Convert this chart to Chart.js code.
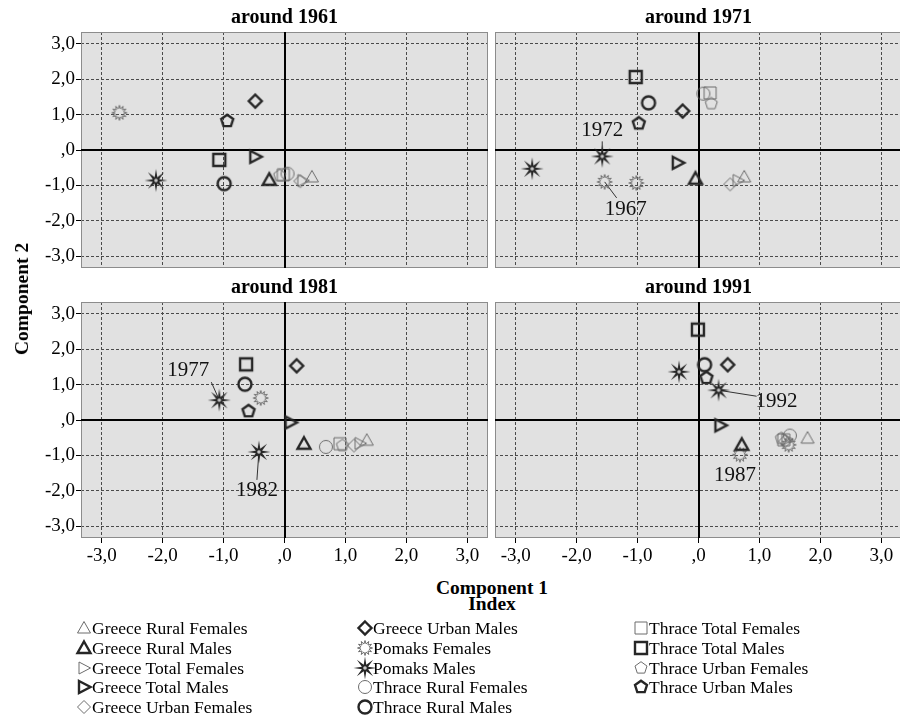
<!DOCTYPE html>
<html>
<head>
<meta charset="utf-8">
<script src="https://cdn.jsdelivr.net/npm/chart.js@4"></script>
<style>
body { margin:0; width:900px; height:715px; overflow:hidden; position:relative; background:#fff;
       font-family:'Liberation Serif','Times New Roman',serif; color:#000; }
canvas { position:absolute; }
.axt { position:absolute; font-weight:bold; font-size:19.5px; white-space:nowrap; line-height:22px; }
.leg { position:absolute; font-size:17.5px; white-space:nowrap; line-height:20px; }
</style>
</head>
<body>
<canvas id="p0" width="490" height="270" style="left:0;top:0"></canvas>
<canvas id="p1" width="412" height="270" style="left:490px;top:0"></canvas>
<canvas id="p2" width="490" height="298" style="left:0;top:270px"></canvas>
<canvas id="p3" width="412" height="298" style="left:490px;top:270px"></canvas>
<div class="axt" style="left:392px;width:200px;text-align:center;top:577px">Component 1</div>
<div class="axt" style="left:392px;width:200px;text-align:center;top:593px">Index</div>
<div class="axt" style="left:22px;top:299px;transform:translate(-50%,-50%) rotate(-90deg)">Component 2</div>
<div id="legend"></div>
<script>
var seriesNames = ['Greece Rural Females', 'Greece Rural Males', 'Greece Total Females', 'Greece Total Males',
    'Greece Urban Females', 'Greece Urban Males', 'Pomaks Females', 'Pomaks Males',
    'Thrace Rural Females', 'Thrace Rural Males', 'Thrace Total Females', 'Thrace Total Males',
    'Thrace Urban Females', 'Thrace Urban Males'];
var seriesShapes = ['triangle', 'triangle', 'right', 'right', 'diamond', 'diamond', 'star', 'star',
    'circle', 'circle', 'square', 'square', 'pentagon', 'pentagon'];
var panelTitles = ['around 1961', 'around 1971', 'around 1981', 'around 1991'];
var tickValues = [-3, -2, -1, 0, 1, 2, 3];
var tickLabels = ['-3,0', '-2,0', '-1,0', ',0', '1,0', '2,0', '3,0'];

// component scores at the census, same order as seriesNames (null = no census point)
var comp1_1961 = [0.45, -0.25, 0.30, -0.48, 0.26, -0.48, -2.71, -2.11, 0.05, -0.99, -0.02, -1.07, -0.08, -0.94];
var comp2_1961 = [-0.76, -0.84, -0.86, -0.19, -0.88, 1.38, 1.05, -0.86, -0.67, -0.95, -0.70, -0.28, -0.72, 0.82];
var comp1_1971 = [0.75, -0.05, 0.65, -0.34, 0.52, -0.26, -1.02, -2.73, 0.08, -0.82, 0.19, -1.03, 0.21, -0.98];
var comp2_1971 = [-0.76, -0.81, -0.86, -0.36, -0.97, 1.10, -0.93, -0.53, 1.59, 1.33, 1.61, 2.06, 1.31, 0.75];
var comp1_1981 = [1.35, 0.32, 1.24, 0.10, 1.14, 0.20, -0.39, null, 0.68, -0.65, 0.91, -0.63, 0.95, -0.59];
var comp2_1981 = [-0.57, -0.67, -0.66, -0.07, -0.72, 1.53, 0.62, null, -0.76, 1.01, -0.67, 1.57, -0.72, 0.25];
var comp1_1991 = [1.79, 0.71, 1.45, 0.36, 1.42, 0.48, 1.48, -0.32, 1.50, 0.10, 1.40, -0.01, 1.36, 0.13];
var comp2_1991 = [-0.51, -0.70, -0.55, -0.15, -0.60, 1.56, -0.70, 1.36, -0.44, 1.56, -0.56, 2.55, -0.52, 1.19];

// Pomaks surveys taken between censuses
var extraPanel = [1, 1, 2, 2, 3, 3];
var extraSeries = [6, 7, 7, 7, 6, 7];
var extraX = [-1.54, -1.58, -1.07, -0.42, 0.68, 0.33];
var extraY = [-0.90, -0.18, 0.56, -0.90, -0.98, 0.84];
var extraYear = ['1967', '1972', '1977', '1982', '1987', '1992'];

var panelX = [comp1_1961, comp1_1971, comp1_1981, comp1_1991];
var panelY = [comp2_1961, comp2_1971, comp2_1981, comp2_1991];

// label text offset (dx, dy) and leader end (lx, ly) in px from the point
var labelPos = [[21, 28, 12, 16], [0, -26, 0, -15], [-31, -30, -8, -18], [-2, 39, -2, 28], [-5, 21, 0, 0], [58, 11, 38, 6]];

var serif = "'Liberation Serif', 'Times New Roman', serif";

function makeMarker(shape, male) {
    var size = 26;
    var c = document.createElement('canvas');
    c.width = size;
    c.height = size;
    var g = c.getContext('2d');
    g.translate(size / 2, size / 2);
    g.lineWidth = male ? 2.4 : 1;
    g.strokeStyle = male ? '#262626' : '#6c6c6c';
    g.lineJoin = 'miter';
    g.beginPath();
    var i, a, r;
    if (shape === 'triangle') {
        g.moveTo(0, -6.5); g.lineTo(6.5, 5); g.lineTo(-6.5, 5); g.closePath();
    } else if (shape === 'right') {
        g.moveTo(-5, -6); g.lineTo(6.5, 0); g.lineTo(-5, 6); g.closePath();
    } else if (shape === 'diamond') {
        g.moveTo(0, -6.5); g.lineTo(6.5, 0); g.lineTo(0, 6.5); g.lineTo(-6.5, 0); g.closePath();
    } else if (shape === 'circle') {
        g.arc(0, 0, 6.5, 0, Math.PI * 2);
    } else if (shape === 'square') {
        g.rect(-6, -6, 12, 12);
    } else if (shape === 'pentagon') {
        for (i = 0; i < 5; i++) {
            a = -Math.PI / 2 + i * 2 * Math.PI / 5;
            g.lineTo(6.3 * Math.cos(a), 6.3 * Math.sin(a));
        }
        g.closePath();
    } else if (shape === 'star') {
        var n = male ? 8 : 12;
        for (i = 0; i < n * 2; i++) {
            a = -Math.PI / 2 + i * Math.PI / n;
            r = (i % 2 === 0) ? (male ? 11.5 : 7.5) : (male ? 3.4 : 4.2);
            g.lineTo(r * Math.cos(a), r * Math.sin(a));
        }
        g.closePath();
        if (male) {
            g.fillStyle = '#262626';
            g.fill();
            g.beginPath();
            g.arc(0, 0, 1.8, 0, Math.PI * 2);
            g.fillStyle = '#c8c8c8';
            g.fill();
            return c;
        }
    }
    g.stroke();
    return c;
}

var markers = seriesShapes.map(function (s, i) { return makeMarker(s, i % 2 === 1); });

function tickText(v) {
    var i = tickValues.indexOf(v);
    return i < 0 ? '' : tickLabels[i];
}

// background, frame, zero axes and the year labels for the Pomaks surveys
function panelPlugin(p) {
    return {
        id: 'panel' + p,
        beforeDraw: function (chart) {
            var a = chart.chartArea, ctx = chart.ctx;
            ctx.save();
            ctx.fillStyle = '#e1e1e1';
            ctx.fillRect(a.left, a.top, a.right - a.left, a.bottom - a.top);
            ctx.restore();
        },
        beforeDatasetsDraw: function (chart) {
            var a = chart.chartArea, ctx = chart.ctx;
            var xs = chart.scales.x, ys = chart.scales.y;
            ctx.save();
            ctx.strokeStyle = '#8c8c8c';
            ctx.lineWidth = 1;
            ctx.strokeRect(a.left + 0.5, a.top + 0.5, a.right - a.left - 1, a.bottom - a.top - 1);
            ctx.strokeStyle = '#000';
            ctx.lineWidth = 2;
            ctx.beginPath();
            var x0 = Math.round(xs.getPixelForValue(0)), y0 = Math.round(ys.getPixelForValue(0));
            ctx.moveTo(x0, a.top); ctx.lineTo(x0, a.bottom);
            ctx.moveTo(a.left, y0); ctx.lineTo(a.right, y0);
            ctx.stroke();
            ctx.strokeStyle = '#333';
            ctx.lineWidth = 1;
            for (var k = 0; k < extraPanel.length; k++) {
                if (extraPanel[k] !== p || (labelPos[k][2] === 0 && labelPos[k][3] === 0)) continue;
                var px = xs.getPixelForValue(extraX[k]), py = ys.getPixelForValue(extraY[k]);
                ctx.beginPath();
                ctx.moveTo(px, py);
                ctx.lineTo(px + labelPos[k][2], py + labelPos[k][3]);
                ctx.stroke();
            }
            ctx.restore();
        },
        afterDatasetsDraw: function (chart) {
            var ctx = chart.ctx, xs = chart.scales.x, ys = chart.scales.y;
            ctx.save();
            ctx.font = '21px ' + serif;
            ctx.fillStyle = '#111';
            ctx.textAlign = 'center';
            ctx.textBaseline = 'middle';
            for (var k = 0; k < extraPanel.length; k++) {
                if (extraPanel[k] !== p) continue;
                var px = xs.getPixelForValue(extraX[k]), py = ys.getPixelForValue(extraY[k]);
                ctx.fillText(extraYear[k], px + labelPos[k][0], py + labelPos[k][1]);
            }
            ctx.restore();
        }
    };
}

function drawPanel(p) {
    var showX = p >= 2, showY = p % 2 === 0;
    var datasets = [];
    for (var s = 0; s < seriesNames.length; s++) {
        var pts = [];
        if (panelX[p][s] !== null) pts.push({x: panelX[p][s], y: panelY[p][s]});
        for (var k = 0; k < extraPanel.length; k++) {
            if (extraPanel[k] === p && extraSeries[k] === s) pts.push({x: extraX[k], y: extraY[k]});
        }
        datasets.push({
            label: seriesNames[s],
            data: pts,
            pointStyle: markers[s],
            pointRadius: 7,
            pointHoverRadius: 7
        });
    }
    var gridOpts = function (show) {
        return {color: '#4a4a4a', lineWidth: 1, drawTicks: show, tickLength: 5, tickColor: '#000', tickWidth: 1, tickBorderDash: []};
    };
    new Chart(document.getElementById('p' + p), {
        type: 'scatter',
        data: {datasets: datasets},
        options: {
            responsive: false,
            animation: false,
            events: [],
            layout: {autoPadding: false, padding: {left: 0, right: showY ? 2 : 0, top: 0, bottom: 0}},
            plugins: {
                legend: {display: false},
                tooltip: {enabled: false},
                title: {
                    display: true,
                    text: panelTitles[p],
                    fullSize: false,
                    color: '#000',
                    font: {family: serif, size: 20, weight: 'bold'},
                    padding: {top: 6, bottom: 2}
                }
            },
            scales: {
                x: {
                    type: 'linear',
                    min: -3.34,
                    max: 3.34,
                    grid: gridOpts(showX),
                    border: {display: false, dash: [3, 2]},
                    ticks: {
                        display: showX, stepSize: 1, includeBounds: false, autoSkip: false, maxRotation: 0,
                        padding: 2, color: '#000', font: {family: serif, size: 19}, callback: tickText
                    },
                    afterFit: function (scale) {
                        scale.height = showX ? 30 : 2;
                        scale.paddingLeft = 0;
                        scale.paddingRight = 0;
                    }
                },
                y: {
                    type: 'linear',
                    min: -3.33,
                    max: 3.33,
                    grid: gridOpts(showY),
                    border: {display: false, dash: [3, 2]},
                    ticks: {
                        display: showY, stepSize: 1, includeBounds: false, autoSkip: false,
                        padding: 1, color: '#000', font: {family: serif, size: 19}, callback: tickText
                    },
                    afterFit: function (scale) {
                        scale.width = showY ? 81 : 5;
                        scale.paddingTop = 0;
                        scale.paddingBottom = 0;
                    }
                }
            }
        },
        plugins: [panelPlugin(p)]
    });
}

for (var p = 0; p < 4; p++) drawPanel(p);

// legend: three columns, filled top to bottom
var legend = document.getElementById('legend');
var iconX = [84, 365, 641];
seriesNames.forEach(function (name, i) {
    var col = Math.floor(i / 5), row = i % 5;
    var cy = 628 + row * 19.75;
    var icon = makeMarker(seriesShapes[i], i % 2 === 1);
    icon.style.left = (iconX[col] - 13) + 'px';
    icon.style.top = (cy - 13) + 'px';
    legend.appendChild(icon);
    var t = document.createElement('div');
    t.className = 'leg';
    t.textContent = name;
    t.style.left = (iconX[col] + 8) + 'px';
    t.style.top = (cy - 10) + 'px';
    legend.appendChild(t);
});
</script>
</body>
</html>
